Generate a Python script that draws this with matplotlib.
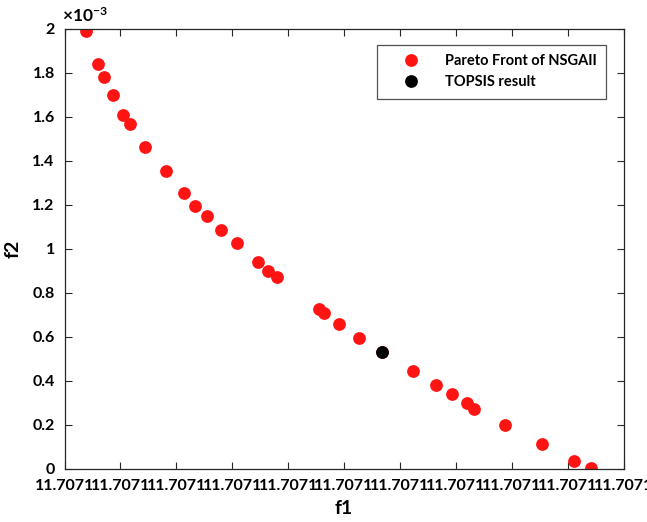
"""Pareto front of the NSGA-II run with the TOPSIS pick highlighted."""
import matplotlib
matplotlib.use('Agg')
import matplotlib.pyplot as plt
from matplotlib.ticker import FixedLocator, FuncFormatter

# objective values along the front (f1 differs only past the 4th decimal)
F1_BASE = 11.7071
f1_shift = [0.385, 0.594, 0.701, 0.862, 1.052, 1.166, 1.445, 1.810, 2.132, 2.335,
            2.544, 2.800, 3.081, 3.462, 3.646, 3.796, 4.553, 4.642, 4.916, 5.274,
            5.675, 6.229, 6.640, 6.937, 7.195, 7.326, 7.886, 8.547, 9.115, 9.419]
f2_vals = [1.991, 1.840, 1.780, 1.699, 1.610, 1.570, 1.465, 1.355, 1.256, 1.197,
           1.150, 1.086, 1.029, 0.941, 0.900, 0.871, 0.726, 0.708, 0.660, 0.595,
           0.533, 0.445, 0.380, 0.340, 0.299, 0.274, 0.200, 0.114, 0.036, 0.003]
f1 = [F1_BASE + s * 1e-6 for s in f1_shift]
f2 = [v * 1e-3 for v in f2_vals]
best = 20  # index chosen by TOPSIS

plt.rcParams['font.family'] = 'Lato'
plt.rcParams['font.weight'] = 'bold'
plt.rcParams['mathtext.fontset'] = 'custom'
plt.rcParams['mathtext.rm'] = 'Lato:bold'
plt.rcParams['mathtext.it'] = 'Lato:bold'

fig = plt.figure(figsize=(6.47, 5.22), dpi=100)
ax = fig.add_axes([64.5 / 647, 53 / 522, 559 / 647, 440 / 522])

ax.plot(f1, f2, 'o', color='#ff1414', ms=9.2, mec='none', label='Pareto Front of NSGAII')
ax.plot([f1[best]], [f2[best]], 'o', color='black', ms=9.2, mec='none', label='TOPSIS result')

ax.set_xlim(F1_BASE, F1_BASE + 10e-6)
ax.set_ylim(0, 2e-3)
ax.xaxis.set_major_locator(FixedLocator([F1_BASE + k * 1e-6 for k in range(11)]))
ax.xaxis.set_major_formatter(FuncFormatter(lambda v, p: '%.4f' % v))
ax.yaxis.set_major_locator(FixedLocator([k * 0.2e-3 for k in range(11)]))
ax.yaxis.set_major_formatter(FuncFormatter(lambda v, p: '%g' % round(v * 1e3, 1)))

ax.tick_params(direction='in', length=5, width=0.8, top=True, right=True,
               labelsize=11.5, colors='#262626', labelcolor='black', pad=7)
for sp in ax.spines.values():
    sp.set_linewidth(0.9)
    sp.set_color('#262626')

ax.set_xlabel('f1', fontsize=14, fontweight='bold', labelpad=5)
ax.set_ylabel('f2', fontsize=14, fontweight='bold', labelpad=8)
ax.text(-0.004, 1.01, r'$\times10^{-3}$', transform=ax.transAxes, fontsize=12.5,
        ha='left', va='bottom')

leg = ax.legend(loc='upper right', bbox_to_anchor=(0.9687, 0.9636), borderaxespad=0,
                fontsize=10.5, frameon=True, fancybox=False, edgecolor='#262626',
                handletextpad=0.6, borderpad=0.65, labelspacing=0.45, handlelength=3.4)
leg.get_frame().set_linewidth(0.9)

fig.savefig('out.png', dpi=100)
plt.close(fig)
